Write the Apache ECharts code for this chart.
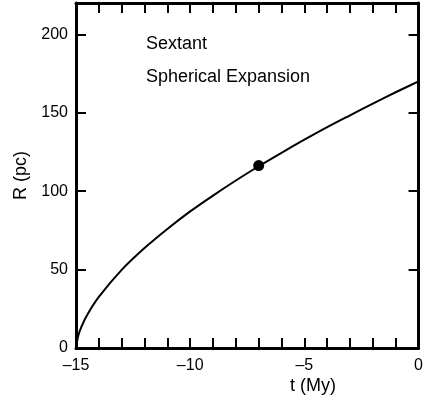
<!DOCTYPE html>
<html>
<head>
<meta charset="utf-8">
<script src="https://cdn.jsdelivr.net/npm/echarts@6/dist/echarts.min.js"></script>
<style>
  html, body { margin: 0; padding: 0; background: #fff; }
  #chart { width: 426px; height: 403px; }
</style>
</head>
<body>
<div id="chart"></div>
<script>
// radius of the expanding shell vs time
const times = [-15, -14.9, -14.75, -14.5, -14, -13, -12, -11, -10, -9, -8, -7, -6, -5, -4, -3, -2, -1, 0]
const radius = [0, 8, 14, 21.4, 32.6, 49.8, 63.7, 75.9, 87.1, 97.2, 106.8, 115.9, 124.5, 132.8, 140.8, 148.4, 155.9, 163.1, 170]
// present position marker
const markerPoint = [-7, 116.3]
const notes = ['Sextant', 'Spherical Expansion']

const font = '"Liberation Sans", Arial, Helvetica, sans-serif'
const black = '#000'

const chart = echarts.init(document.getElementById('chart'))

const fmt = v => (v < 0 ? '\u2013' + Math.abs(v) : String(v))

const axisCommon = {
  axisLine: { show: true, onZero: false, lineStyle: { color: black, width: 3 } },
  splitLine: { show: false }
}
const tickStyle = { color: black, width: 2 }

chart.setOption({
  animation: false,
  grid: { left: 76, right: 6, top: 3, bottom: 55 },
  xAxis: [
    {
      ...axisCommon,
      type: 'value', min: -15, max: 0, interval: 5, position: 'bottom',
      axisTick: { inside: true, length: 10, lineStyle: tickStyle },
      minorTick: { show: true, splitNumber: 5, length: 10, lineStyle: tickStyle },
      axisLabel: { color: black, fontFamily: font, fontSize: 16, margin: 10, formatter: fmt }
    },
    {
      ...axisCommon,
      type: 'value', min: -15, max: 0, interval: 5, position: 'top',
      axisTick: { inside: true, length: 10, lineStyle: tickStyle },
      minorTick: { show: true, splitNumber: 5, length: 10, lineStyle: tickStyle },
      axisLabel: { show: false }
    }
  ],
  yAxis: [
    {
      ...axisCommon,
      type: 'value', min: 0, max: 220, interval: 50, position: 'left',
      name: 'R (pc)', nameLocation: 'middle', nameGap: 40,
      nameTextStyle: { color: black, fontFamily: font, fontSize: 18 },
      axisTick: { inside: true, length: 10, lineStyle: tickStyle },
      axisLabel: {
        color: black, fontFamily: font, fontSize: 16, margin: 8,
        formatter: v => (v > 200 ? '' : fmt(v))
      }
    },
    {
      ...axisCommon,
      type: 'value', min: 0, max: 220, interval: 50, position: 'right',
      axisTick: { inside: true, length: 10, lineStyle: tickStyle },
      axisLabel: { show: false }
    }
  ],
  series: [
    {
      type: 'line',
      data: times.map((t, i) => [t, radius[i]]),
      smooth: 0.3,
      showSymbol: false,
      lineStyle: { color: black, width: 2 }
    },
    {
      type: 'scatter',
      data: [markerPoint],
      symbolSize: 11,
      itemStyle: { color: black, opacity: 1 }
    }
  ],
  graphic: [
    { type: 'text', left: 146, top: 35, style: { text: notes[0], fill: black, font: '18px ' + font } },
    { type: 'text', left: 146, top: 68, style: { text: notes[1], fill: black, font: '18px ' + font } },
    { type: 'text', left: 290, top: 377, style: { text: 't (My)', fill: black, font: '18px ' + font } }
  ]
})
</script>
</body>
</html>
